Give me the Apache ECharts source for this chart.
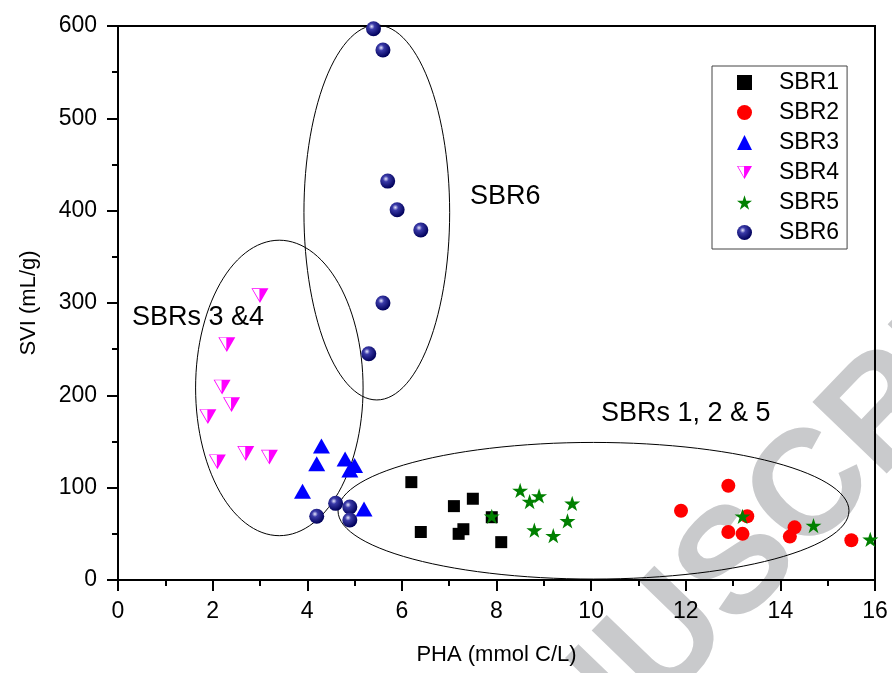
<!DOCTYPE html>
<html>
<head>
<meta charset="utf-8">
<script src="https://cdn.jsdelivr.net/npm/echarts@6/dist/echarts.min.js"></script>
<style>
  html, body { margin: 0; padding: 0; background: #fff; }
  #chart { width: 892px; height: 673px; }
</style>
</head>
<body>
<div id="chart"></div>
<script>
// data (PHA mmol C/L, SVI mL/g)
const sbr1X = [6.2, 6.4, 7.1, 7.5, 7.2, 7.3, 7.9, 8.1]
const sbr1Y = [106, 52, 80, 88, 50, 55, 68, 41]
const sbr2X = [12.9, 11.9, 12.9, 13.2, 13.3, 14.3, 14.2, 15.5]
const sbr2Y = [102, 75, 52, 50, 69, 57, 47, 43]
const sbr3X = [4.3, 4.2, 4.8, 5.0, 4.9, 3.9, 5.2]
const sbr3Y = [145, 126, 131, 124, 119, 96, 77]
const sbr4X = [3.0, 2.3, 2.2, 2.4, 1.9, 2.1, 2.7, 3.2]
const sbr4Y = [308, 255, 209, 190, 177, 128, 137, 133]
const sbr5X = [7.9, 8.5, 8.7, 8.9, 9.6, 9.5, 8.8, 9.2, 13.2, 14.7, 15.9]
const sbr5Y = [69, 97, 85, 91, 83, 64, 54, 48, 69, 59, 44]
const sbr6X = [5.4, 5.6, 5.7, 5.9, 6.4, 5.6, 5.3, 4.2, 4.6, 4.9, 4.9]
const sbr6Y = [597, 574, 432, 401, 379, 300, 245, 69, 83, 79, 65]

// group ellipses (centre and radii in data units)
const ellCx = [5.47, 3.41, 10.05]
const ellCy = [398, 208, 75]
const ellRx = [1.54, 1.77, 5.4]
const ellRy = [203, 160, 74]

const seriesNames = ['SBR1', 'SBR2', 'SBR3', 'SBR4', 'SBR5', 'SBR6']

const zip = (xs, ys) => xs.map((x, i) => [x, ys[i]])

const starPath = 'path://M50,0 L61.23,34.55 L97.55,34.55 L68.17,55.9 L79.39,90.45 L50,69.1 L20.61,90.45 L31.83,55.9 L2.45,34.55 L38.77,34.55 Z'
// down triangle, left half hollow, right half filled
const halfTriPath = 'path://M0,0 L100,0 L50,87 Z M7.5,4 L47,72.7 L47,4 Z'
const sphere = {
  type: 'radial', x: 0.38, y: 0.35, r: 0.65,
  colorStops: [
    { offset: 0, color: '#e8e8ff' },
    { offset: 0.3, color: '#3a3aa8' },
    { offset: 1, color: '#00005a' }
  ]
}

const chart = echarts.init(document.getElementById('chart'))
const font = 'Arial, "Liberation Sans", sans-serif'

chart.setOption({
  backgroundColor: '#fff',
  animation: false,
  textStyle: { fontFamily: font, color: '#000' },
  grid: {
    left: 118, right: 17, top: 26, bottom: 93,
    show: true, borderColor: '#000', borderWidth: 2
  },
  graphic: [
    // watermark
    {
      type: 'text', z: -10, x: 740, y: 566, rotation: 46 * Math.PI / 180,
      style: {
        text: 'MANUSCRIPT', fontSize: 150, fontWeight: 'bold', fontFamily: font,
        fill: '#c9cacc', align: 'center', verticalAlign: 'middle'
      }
    },
    { type: 'text', x: 470, y: 197, style: { text: 'SBR6', fontSize: 27, fontFamily: font, fill: '#000', verticalAlign: 'middle' } },
    { type: 'text', x: 132, y: 318, style: { text: 'SBRs 3 &4', fontSize: 27, fontFamily: font, fill: '#000', verticalAlign: 'middle' } },
    { type: 'text', x: 601, y: 414, style: { text: 'SBRs 1, 2 & 5', fontSize: 27, fontFamily: font, fill: '#000', verticalAlign: 'middle' } }
  ],
  legend: {
    data: seriesNames,
    orient: 'vertical',
    left: 712, top: 66,
    padding: [5, 8, 5, 25],
    borderColor: '#444', borderWidth: 1,
    itemWidth: 15, itemHeight: 15,
    itemGap: 7,
    textStyle: { fontSize: 23, lineHeight: 23, color: '#000', padding: [0, 0, 0, 22] }
  },
  xAxis: {
    type: 'value', min: 0, max: 16, interval: 2,
    name: 'PHA (mmol C/L)', nameLocation: 'middle', nameGap: 64,
    nameTextStyle: { fontSize: 22, color: '#000' },
    axisLine: { lineStyle: { color: '#000', width: 2 } },
    axisTick: { length: 11, lineStyle: { color: '#000', width: 2 } },
    minorTick: { show: true, splitNumber: 2, length: 6, lineStyle: { color: '#000', width: 2 } },
    axisLabel: { fontSize: 23, color: '#000', margin: 20 },
    splitLine: { show: false }
  },
  yAxis: {
    type: 'value', min: 0, max: 600, interval: 100,
    name: 'SVI (mL/g)', nameLocation: 'middle', nameGap: 78,
    nameTextStyle: { fontSize: 22, color: '#000' },
    axisLine: { lineStyle: { color: '#000', width: 2 } },
    axisTick: { length: 11, lineStyle: { color: '#000', width: 2 } },
    minorTick: { show: true, splitNumber: 2, length: 6, lineStyle: { color: '#000', width: 2 } },
    axisLabel: { fontSize: 23, color: '#000', margin: 21 },
    splitLine: { show: false }
  },
  series: [
    {
      type: 'custom', name: 'groups', silent: true, clip: false, z: 1,
      data: ellCx.map((c, i) => [c, ellCy[i], ellRx[i], ellRy[i]]),
      renderItem(params, api) {
        const c = api.coord([api.value(0), api.value(1)])
        const s = api.size([api.value(2), api.value(3)])
        const pts = []
        for (let k = 0; k < 120; k++) {
          const a = k / 120 * Math.PI * 2
          pts.push([c[0] + s[0] * Math.cos(a), c[1] + s[1] * Math.sin(a)])
        }
        return {
          type: 'polygon',
          shape: { points: pts },
          style: { fill: 'none', stroke: '#000', lineWidth: 1 }
        }
      }
    },
    { name: 'SBR1', type: 'scatter', z: 3, symbol: 'rect', symbolSize: 12, itemStyle: { color: '#000', opacity: 1 }, data: zip(sbr1X, sbr1Y) },
    { name: 'SBR2', type: 'scatter', z: 3, symbol: 'circle', symbolSize: 14, itemStyle: { color: '#ff0000', opacity: 1 }, data: zip(sbr2X, sbr2Y) },
    { name: 'SBR3', type: 'scatter', z: 3, symbol: 'triangle', symbolSize: [17, 15], itemStyle: { color: '#0000ff', opacity: 1 }, data: zip(sbr3X, sbr3Y) },
    { name: 'SBR4', type: 'scatter', z: 3, symbol: halfTriPath, symbolKeepAspect: true, symbolSize: 17, itemStyle: { color: '#ff00ff', opacity: 1 }, data: zip(sbr4X, sbr4Y) },
    { name: 'SBR5', type: 'scatter', z: 4, symbol: starPath, symbolKeepAspect: true, symbolSize: 16, itemStyle: { color: '#008000', opacity: 1 }, data: zip(sbr5X, sbr5Y) },
    { name: 'SBR6', type: 'scatter', z: 3, symbol: 'circle', symbolSize: 15, itemStyle: { color: sphere, opacity: 1 }, data: zip(sbr6X, sbr6Y) }
  ]
})
</script>
</body>
</html>
